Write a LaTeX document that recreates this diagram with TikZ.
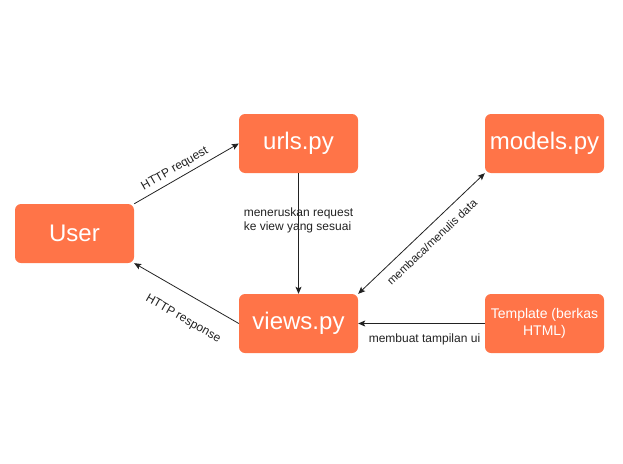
\documentclass[tikz,border=0pt]{standalone}
\usepackage{fontspec}
\setmainfont{Liberation Sans}
\usetikzlibrary{arrows.meta}
\definecolor{boxorange}{HTML}{FF7448}
\definecolor{linegray}{HTML}{222222}
\tikzset{
  box/.style={fill=boxorange, draw=none, rounded corners=6pt, minimum width=119pt, minimum height=59pt, text=white, font=\fontsize{24}{28}\selectfont, inner sep=2pt, align=center},
  conn/.style={draw=linegray, line width=0.8pt, -{Stealth[length=7pt,width=6pt,inset=1.5pt]}},
  lbl/.style={font=\fontsize{12}{14}\selectfont, text=linegray, inner sep=1pt}
}
\begin{document}
\begin{tikzpicture}[x=1pt,y=-1pt]
\useasboundingbox (0,0) rectangle (623,463);
\node[box] (user) at (74.5,233.5) {User};
\node[box] (urls) at (298.5,143.5) {urls.py};
\node[box] (models) at (544.5,143.5) {models.py};
\node[box] (views) at (298.5,323.5) {views.py};
\node[box, font=\fontsize{14}{17}\selectfont] (tpl) at (544.5,323.5) {Template (berkas\\HTML)};

\draw[conn] (user.north east) -- (urls.west);
\node[lbl, rotate=29.7] (lreq) at (175,169) {HTTP request};
\draw[conn] (views.west) -- (user.south east);
\node[lbl, rotate=-29.7] (lresp) at (183,319) {HTTP response};
\draw[conn] (urls.south) -- (views.north);
\node[lbl, align=left] (fw) at (298.5,220) {meneruskan request\\ke view yang sesuai};
\draw[conn, {Stealth[length=7pt,width=6pt,inset=1.5pt]}-{Stealth[length=7pt,width=6pt,inset=1.5pt]}] (views.north east) -- (models.south west);
\node[lbl, font=\fontsize{11.5}{13}\selectfont, rotate=43.5] (ldata) at (432,242) {membaca/menulis data};
\draw[conn] (tpl.west) -- (views.east);
\node[lbl] (lui) at (424.5,339) {membuat tampilan ui};
\end{tikzpicture}
\end{document}
